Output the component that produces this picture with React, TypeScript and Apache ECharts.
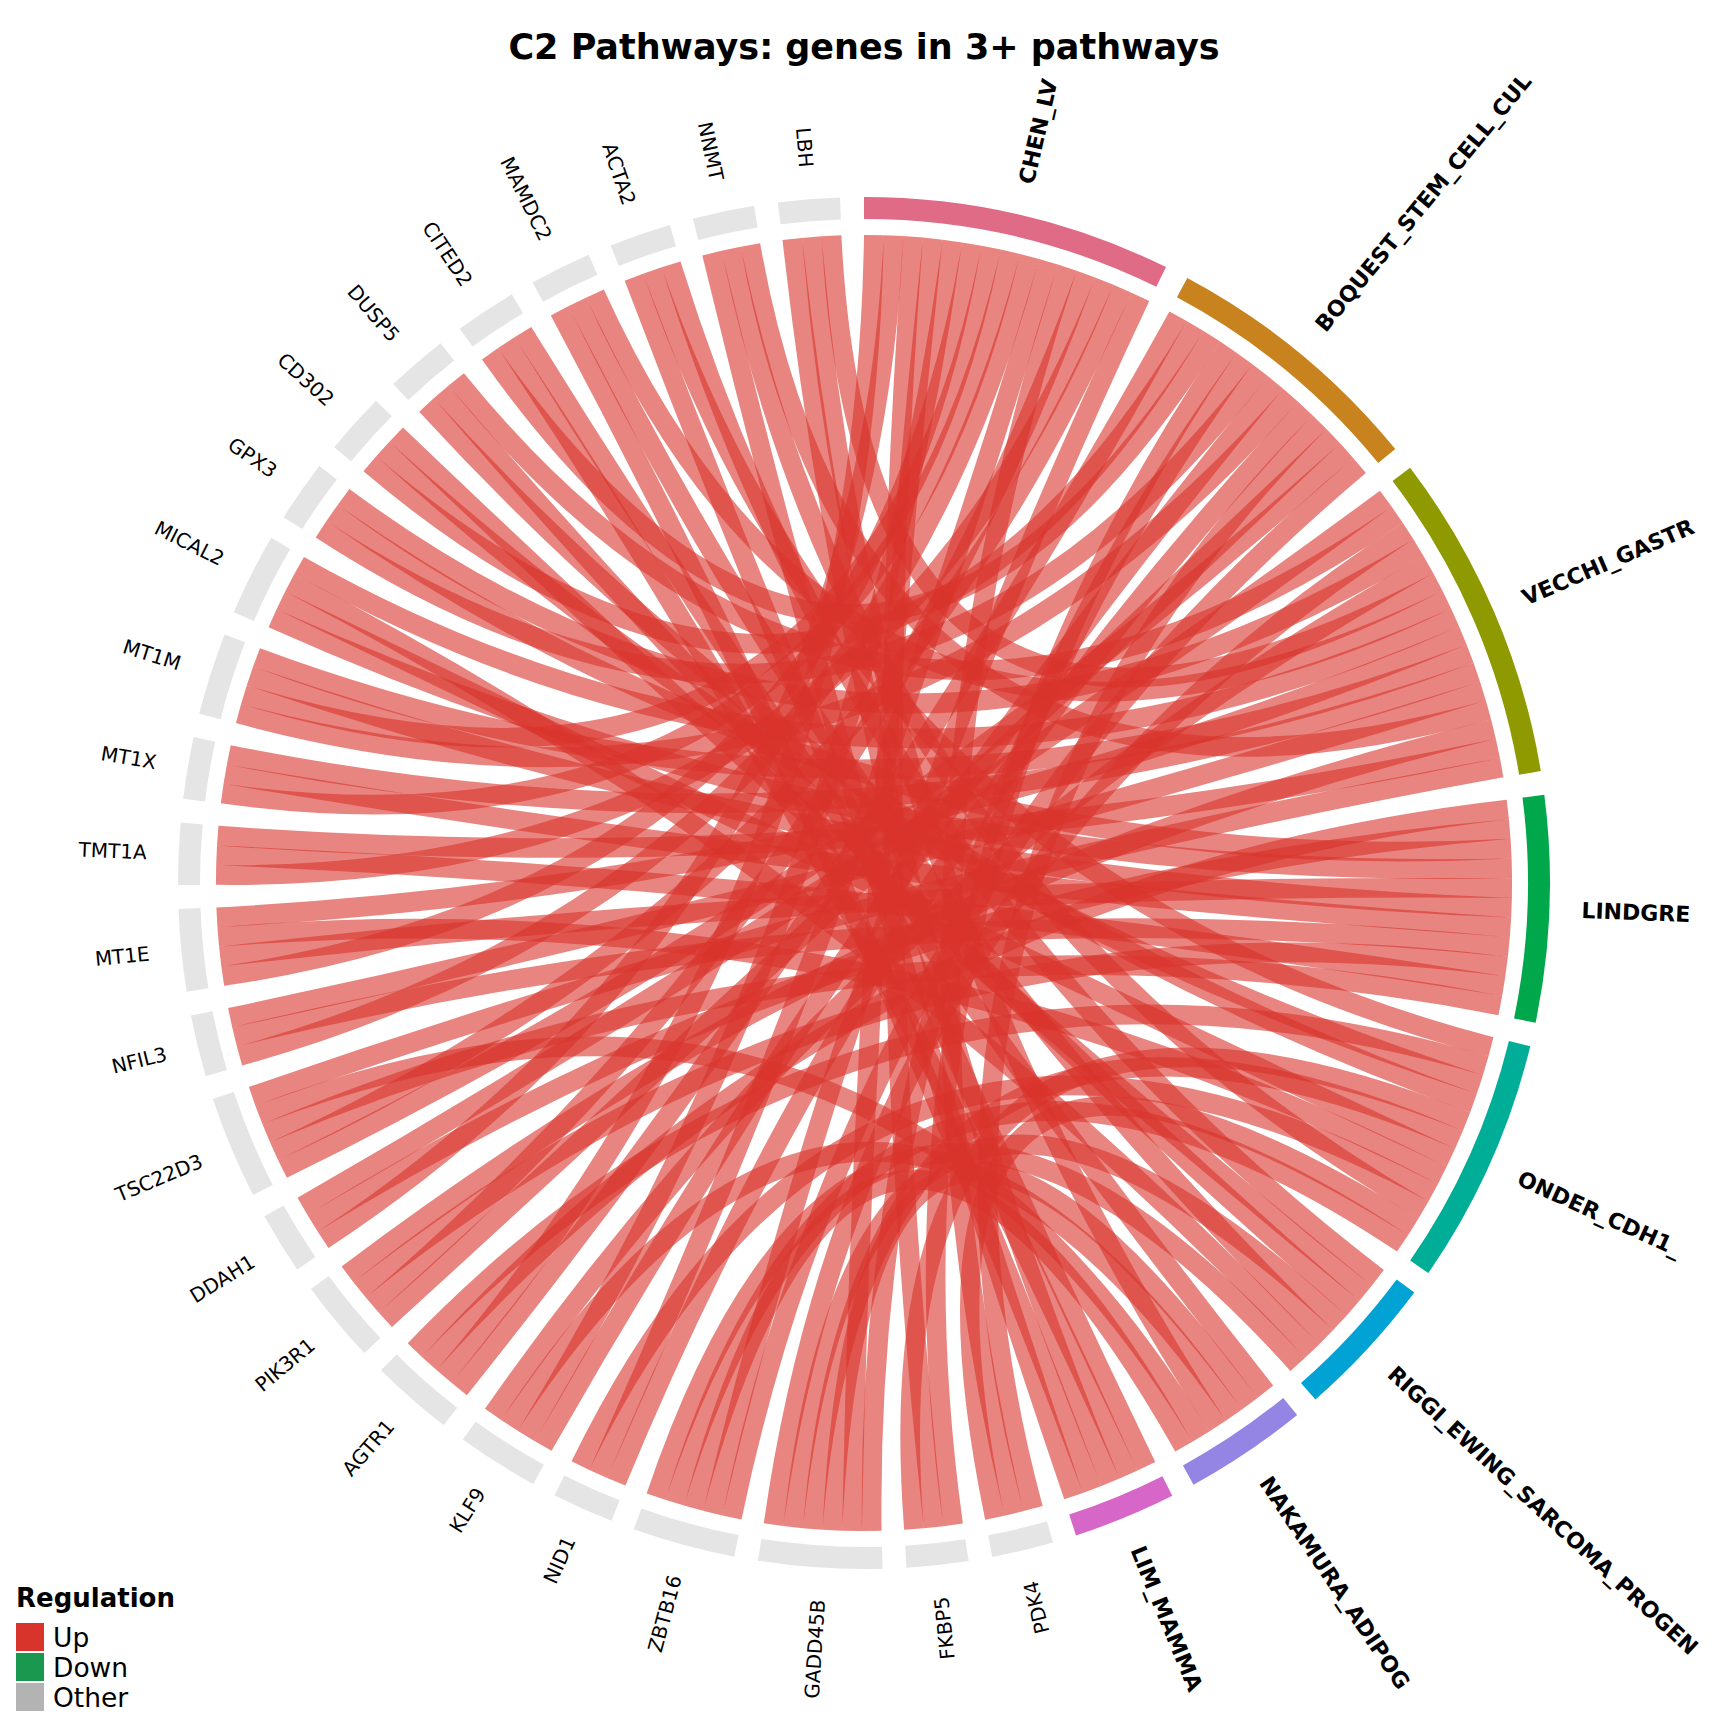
import React, { useEffect, useRef } from "react";
import * as echarts from "echarts";

// ---------------- data ----------------
const TITLE = "C2 Pathways: genes in 3+ pathways";

// pathway labels as they are shown on the chart (the long names run past the plot box)
const PATHWAYS = [
  "CHEN_LV",
  "BOQUEST_STEM_CELL_CUL",
  "VECCHI_GASTR",
  "LINDGRE",
  "ONDER_CDH1_",
  "RIGGI_EWING_SARCOMA_PROGEN",
  "NAKAMURA_ADIPOG",
  "LIM_MAMMA",
];

const GENES = [
  "PDK4", "FKBP5", "GADD45B", "ZBTB16", "NID1", "KLF9", "AGTR1", "PIK3R1",
  "DDAH1", "TSC22D3", "NFIL3", "MT1E", "TMT1A", "MT1X", "MT1M", "MICAL2",
  "GPX3", "CD302", "DUSP5", "CITED2", "MAMDC2", "ACTA2", "NNMT", "LBH",
];

const CHEN_GENES = ["PDK4", "FKBP5", "GADD45B", "ZBTB16", "NID1", "KLF9", "AGTR1", "PIK3R1", "DDAH1", "TSC22D3", "NFIL3", "MT1E", "TMT1A", "MT1X", "MT1M"];
const BOQUEST_GENES = ["PDK4", "FKBP5", "GADD45B", "ZBTB16", "NID1", "KLF9", "AGTR1", "PIK3R1", "TSC22D3", "MT1M", "GPX3", "CD302", "CITED2"];
const VECCHI_GENES = ["GADD45B", "KLF9", "PIK3R1", "DDAH1", "TSC22D3", "NFIL3", "MT1E", "TMT1A", "MT1X", "MT1M", "MICAL2", "GPX3", "DUSP5", "MAMDC2", "NNMT", "LBH"];
const LINDGREN_GENES = ["AGTR1", "PIK3R1", "DDAH1", "TSC22D3", "NFIL3", "MT1E", "TMT1A", "MT1X", "MT1M", "MICAL2", "GPX3"];
const ONDER_GENES = ["PDK4", "FKBP5", "GADD45B", "ZBTB16", "NID1", "AGTR1", "MT1E", "MICAL2", "CD302", "DUSP5", "ACTA2", "NNMT"];
const RIGGI_GENES = ["GADD45B", "ZBTB16", "MICAL2", "CD302", "DUSP5", "MAMDC2", "ACTA2"];
const NAKAMURA_GENES = ["GADD45B", "ZBTB16", "KLF9", "TSC22D3", "CITED2", "LBH"];
const LIM_GENES = ["CITED2", "MAMDC2", "ACTA2", "NNMT", "LBH"];

const MEMBERS = [CHEN_GENES, BOQUEST_GENES, VECCHI_GENES, LINDGREN_GENES, ONDER_GENES, RIGGI_GENES, NAKAMURA_GENES, LIM_GENES];

const REGULATION = ["Up", "Down", "Other"];

// ---------------- styles ----------------
const PATHWAY_COLORS = ["#e06b87", "#c8821e", "#8f9a00", "#00a84b", "#00ae98", "#00a3d4", "#9484e4", "#d666c8"];
const REG_COLORS = ["#d9342b", "#1b9850", "#b3b3b3"];
const GENE_RING = "#e5e5e5";
const LINK_STROKE = "rgba(217, 52, 43, 0.6)";
const FONT = "DejaVu Sans";

// ---------------- layout (derived) ----------------
const CX = 864, CY = 883;
const R_LINK = 648, R_IN = 664, R_OUT = 686, R_LABEL = 718;
const GAP = 2;

type Sector = { name: string; kind: "p" | "g"; start: number; end: number; color: string };

const geneUnits = GENES.map((g) => MEMBERS.filter((m) => m.includes(g)).length);
const pathUnits = MEMBERS.map((m) => m.length);
const totalUnits = geneUnits.reduce((a, b) => a + b, 0) + pathUnits.reduce((a, b) => a + b, 0);
const nSectors = GENES.length + PATHWAYS.length;
const UNIT = (360 - GAP * nSectors) / totalUnits;
const LINK_WIDTH = (R_LINK * UNIT * Math.PI) / 180;

const SECTORS: Sector[] = [];
{
  let a = 0;
  PATHWAYS.forEach((p, i) => {
    SECTORS.push({ name: p, kind: "p", start: a, end: a + pathUnits[i] * UNIT, color: PATHWAY_COLORS[i] });
    a += pathUnits[i] * UNIT + GAP;
  });
  GENES.forEach((g, i) => {
    SECTORS.push({ name: g, kind: "g", start: a, end: a + geneUnits[i] * UNIT, color: GENE_RING });
    a += geneUnits[i] * UNIT + GAP;
  });
}

type Link = { p: number; g: number; a: number; b: number };
const LINKS: Link[] = [];
PATHWAYS.forEach((_, pi) => {
  GENES.forEach((g, gi) => {
    if (MEMBERS[pi].includes(g)) LINKS.push({ p: pi, g: gi, a: 0, b: 0 });
  });
});
// slot order inside every sector: by the name at the other end of the link
{
  SECTORS.forEach((sec, si) => {
    const isP = si < PATHWAYS.length;
    const mine = LINKS.filter((l) => (isP ? l.p === si : PATHWAYS.length + l.g === si));
    const otherName = (l: Link) => (isP ? GENES[l.g] : PATHWAYS[l.p]);
    mine.sort((x, y) => (otherName(x) < otherName(y) ? -1 : otherName(x) > otherName(y) ? 1 : 0));
    mine.forEach((l, k) => {
      const ang = sec.start + (k + 0.5) * UNIT;
      if (isP) l.a = ang;
      else l.b = ang;
    });
  });
}

function pt(r: number, deg: number): [number, number] {
  const t = (deg * Math.PI) / 180;
  return [CX + r * Math.sin(t), CY - r * Math.cos(t)];
}
function f(p: [number, number]) {
  return `${p[0].toFixed(2)} ${p[1].toFixed(2)}`;
}
function linkPath(l: Link) {
  return `M ${f(pt(R_LINK, l.a))} Q ${CX} ${CY} ${f(pt(R_LINK, l.b))}`;
}
function ringPath(s: Sector) {
  const large = s.end - s.start > 180 ? 1 : 0;
  return [
    `M ${f(pt(R_OUT, s.start))}`,
    `A ${R_OUT} ${R_OUT} 0 ${large} 1 ${f(pt(R_OUT, s.end))}`,
    `L ${f(pt(R_IN, s.end))}`,
    `A ${R_IN} ${R_IN} 0 ${large} 0 ${f(pt(R_IN, s.start))}`,
    "Z",
  ].join(" ");
}

export default function App() {
  const ref = useRef<HTMLDivElement>(null);

  useEffect(() => {
    const chart = echarts.init(ref.current!, null, { renderer: "svg" });

    const legendEls: any[] = [
      {
        type: "text", x: 16, y: 1598,
        style: { text: "Regulation", font: `bold 26px "${FONT}"`, fill: "#000", align: "left", verticalAlign: "middle" },
      },
    ];
    REGULATION.forEach((r, i) => {
      legendEls.push({ type: "rect", shape: { x: 16, y: 1623 + i * 30, width: 28, height: 28 }, style: { fill: REG_COLORS[i] } });
      legendEls.push({
        type: "text", x: 53, y: 1637 + i * 30,
        style: { text: r, font: `26.5px "${FONT}"`, fill: "#000", align: "left", verticalAlign: "middle" },
      });
    });

    chart.setOption({
      animation: false,
      title: {
        text: TITLE, left: "center", top: 24,
        textStyle: { fontFamily: FONT, fontSize: 35, fontWeight: "bold", color: "#000" },
      },
      graphic: legendEls,
      series: [
        {
          type: "custom", coordinateSystem: "none", silent: true,
          data: LINKS.map((l) => [l.p, l.g]),
          renderItem: (params: any) => {
            const l = LINKS[params.dataIndex];
            return {
              type: "path",
              shape: { pathData: linkPath(l) },
              style: { fill: "none", stroke: LINK_STROKE, lineWidth: LINK_WIDTH, lineCap: "butt" },
            };
          },
        },
        {
          type: "custom", coordinateSystem: "none", silent: true,
          data: SECTORS.map((_, i) => [i]),
          renderItem: (params: any) => {
            const s = SECTORS[params.dataIndex];
            return { type: "path", shape: { pathData: ringPath(s) }, style: { fill: s.color, stroke: null } };
          },
        },
        {
          type: "custom", coordinateSystem: "none", silent: true,
          data: SECTORS.map((_, i) => [i]),
          renderItem: (params: any) => {
            const s = SECTORS[params.dataIndex];
            const mid = (s.start + s.end) / 2;
            const t = (mid * Math.PI) / 180;
            const [x, y] = pt(R_LABEL, mid);
            if (s.kind === "g") {
              const rot = Math.atan2(-Math.cos(t), -Math.sin(t));
              return {
                type: "text", x, y, rotation: rot,
                style: { text: s.name, font: `20px "${FONT}"`, fill: "#000", align: "right", verticalAlign: "middle" },
              };
            }
            const rot = Math.atan2(Math.cos(t), Math.sin(t));
            return {
              type: "text", x, y, rotation: rot,
              style: { text: s.name, font: `bold 22px "${FONT}"`, fill: "#000", align: "left", verticalAlign: "middle" },
            };
          },
        },
      ],
    });

    return () => {
      chart.dispose();
    };
  }, []);

  return (
    <div style={{ position: "fixed", left: 0, top: 0, width: 1728, height: 1728, background: "#fff" }}>
      <div ref={ref} style={{ position: "absolute", left: 0, top: 0, width: 1728, height: 1728 }} />
    </div>
  );
}
